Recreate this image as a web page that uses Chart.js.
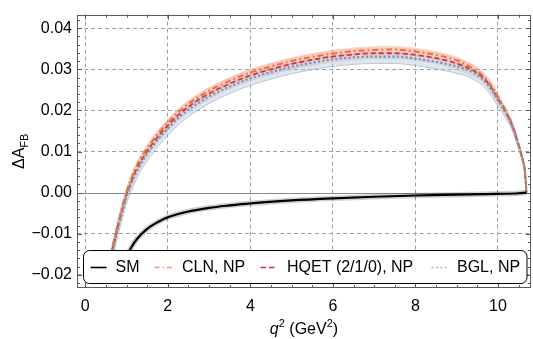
<!DOCTYPE html>
<html><head><meta charset="utf-8">
<script src="https://cdn.jsdelivr.net/npm/chart.js@4.4.1/dist/chart.umd.min.js"></script>
<style>html,body{margin:0;padding:0;background:#fff;overflow:hidden}</style>
</head><body>
<canvas id="c" width="533" height="339"></canvas>
<script>
// ---- data ----
const X_TICKS = [0, 2, 4, 6, 8, 10];
const Y_TICKS = [-0.02, -0.01, 0, 0.01, 0.02, 0.03, 0.04];
const LEGEND_LABELS = ['SM', 'CLN, NP', 'HQET (2/1/0), NP', 'BGL, NP'];

const Q_SM = [0.85, 0.9, 1.0, 1.1, 1.25, 1.5, 1.75, 2.0, 2.5, 3.0, 3.5, 4.0, 5.0, 6.0, 7.0, 8.0, 9.0, 10.0, 10.5, 10.69];
const SM   = [-0.0220, -0.0190, -0.0158, -0.0136, -0.0113, -0.0088, -0.0072, -0.0060, -0.0046, -0.0037, -0.0031, -0.0026, -0.0019, -0.0014, -0.0010, -0.0007, -0.0005, -0.0003, -0.00015, 0];

const Q_NP = [0.55, 0.63, 0.7, 0.8, 0.9, 1.0, 1.1, 1.2, 1.3, 1.45, 1.6, 1.8, 2.0, 2.3, 2.6, 3.0, 3.5, 4.0, 4.5, 5.0, 5.5, 6.0, 6.5, 7.0, 7.5,
              8.0, 8.5, 8.8, 9.0, 9.2, 9.4, 9.6, 9.8, 10.0, 10.2, 10.35, 10.5, 10.6, 10.65, 10.69];
const CLN  = [-0.0195, -0.0146, -0.0115, -0.0072, -0.0033, 0.0002, 0.0030, 0.0055, 0.0075, 0.0100, 0.0122, 0.0148, 0.0170, 0.0200, 0.0223, 0.0248, 0.0272, 0.0292, 0.0307, 0.0320, 0.0330, 0.0338, 0.0344, 0.0347, 0.0348,
              0.0343, 0.0335, 0.0328, 0.0322, 0.0313, 0.0302, 0.0287, 0.0265, 0.0232, 0.0197, 0.0165, 0.0118, 0.0080, 0.0055, 0];
const HQET = [-0.0200, -0.0152, -0.0121, -0.0078, -0.0040, -0.0004, 0.0023, 0.0048, 0.0068, 0.0093, 0.0115, 0.0141, 0.0163, 0.0193, 0.0216, 0.0241, 0.0265, 0.0285, 0.0300, 0.0313, 0.0323, 0.0331, 0.0336, 0.0339, 0.0339,
              0.0335, 0.0327, 0.0320, 0.0314, 0.0306, 0.0297, 0.0283, 0.0261, 0.0228, 0.0194, 0.0162, 0.0116, 0.0079, 0.0054, 0];
const BGL  = [-0.0205, -0.0157, -0.0127, -0.0084, -0.0046, -0.0010, 0.0017, 0.0041, 0.0061, 0.0087, 0.0108, 0.0134, 0.0156, 0.0186, 0.0209, 0.0234, 0.0258, 0.0278, 0.0293, 0.0306, 0.0316, 0.0324, 0.0329, 0.0331, 0.0331,
              0.0326, 0.0318, 0.0312, 0.0307, 0.0301, 0.0292, 0.0278, 0.0256, 0.0224, 0.0191, 0.0160, 0.0114, 0.0078, 0.0053, 0];

// uncertainty band half-widths (read from the shaded regions)
const CLN_ERR  = [0.0009, 0.0009, 0.0009, 0.0009, 0.0009, 0.0009, 0.0009, 0.0009, 0.0008, 0.0008, 0.0008, 0.0008, 0.0008, 0.0008, 0.0008, 0.0008, 0.0008, 0.0008, 0.0008, 0.0008, 0.0008, 0.0008, 0.0008, 0.0008, 0.0008,
                  0.0008, 0.0008, 0.0008, 0.0008, 0.0008, 0.0008, 0.0008, 0.0008, 0.0007, 0.0006, 0.0005, 0.0004, 0.0003, 0.0002, 0];
const HQET_ERR = [0.0013, 0.0013, 0.0013, 0.0013, 0.0013, 0.0013, 0.0013, 0.0013, 0.0013, 0.0013, 0.0013, 0.0013, 0.0013, 0.0013, 0.0013, 0.0013, 0.0013, 0.0013, 0.0013, 0.0013, 0.0013, 0.0013, 0.0013, 0.0013, 0.0013,
                  0.0013, 0.0013, 0.0013, 0.0013, 0.0013, 0.0013, 0.0012, 0.0012, 0.0011, 0.0009, 0.0008, 0.0006, 0.0004, 0.0003, 0];
const BGL_UP   = [0.0008, 0.0008, 0.0008, 0.0008, 0.0008, 0.0008, 0.0008, 0.0008, 0.0008, 0.0008, 0.0008, 0.0008, 0.0008, 0.0008, 0.0008, 0.0008, 0.0008, 0.0008, 0.0008, 0.0008, 0.0008, 0.0008, 0.0008, 0.0008, 0.0008,
                  0.0008, 0.0008, 0.0008, 0.0008, 0.0008, 0.0008, 0.0008, 0.0008, 0.0007, 0.0006, 0.0005, 0.0004, 0.0003, 0.0002, 0];
const BGL_DN   = [0.0017, 0.0017, 0.0017, 0.0017, 0.0017, 0.0017, 0.0017, 0.0017, 0.0017, 0.0017, 0.0017, 0.0017, 0.0017, 0.0017, 0.0017, 0.0017, 0.0017, 0.0017, 0.0017, 0.0017, 0.0017, 0.0017, 0.0017, 0.0017, 0.0017,
                  0.0017, 0.0017, 0.0017, 0.0017, 0.0016, 0.0016, 0.0015, 0.0015, 0.0014, 0.0012, 0.0010, 0.0008, 0.0005, 0.0003, 0];

// ---- build tables ----
const pts = (xs, ys) => xs.map((x, i) => ({x, y: ys[i]}));
const shift = (xs, ys, d, s) => xs.map((x, i) => ({x, y: ys[i] + s * d[i]}));

const C_CLN = '#ec7233', C_HQET = '#d9303c', C_BGL = '#7795ad';
const FONT = "'Liberation Sans', Arial, sans-serif";

const line = (data, color, dash, width, order) => ({
  data, borderColor: color, borderDash: dash, borderWidth: width, pointRadius: 0,
  fill: false, cubicInterpolationMode: 'monotone', order
});
const band = (data, fillCol, edgeCol, fillTarget, order) => ({
  data, borderColor: edgeCol, borderWidth: 0.8, backgroundColor: fillCol, pointRadius: 0,
  fill: fillTarget, cubicInterpolationMode: 'monotone', order
});

const datasets = [
  line(pts(Q_SM, SM), '#000', [], 2.2, 0),
  line(pts(Q_SM, SM), 'rgba(0,0,0,0.18)', [], 5.5, 1),
  line(pts(Q_NP, BGL), C_BGL, [2.2, 2.2], 2.2, 2),
  line(pts(Q_NP, CLN), C_CLN, [6, 3, 1.8, 3], 2, 3),
  line(pts(Q_NP, HQET), C_HQET, [5, 3], 1.8, 4),
  band(shift(Q_NP, BGL, BGL_UP, 1), 'rgba(178,198,214,0.42)', 'rgba(150,175,195,0.55)', '+1', 5),
  band(shift(Q_NP, BGL, BGL_DN, -1), 'rgba(0,0,0,0)', 'rgba(140,165,188,0.75)', false, 6),
  band(shift(Q_NP, HQET, HQET_ERR, 1), 'rgba(236,140,150,0.28)', 'rgba(236,140,150,0.4)', '+1', 7),
  band(shift(Q_NP, HQET, HQET_ERR, -1), 'rgba(0,0,0,0)', 'rgba(236,140,150,0.4)', false, 8),
  band(shift(Q_NP, CLN, CLN_ERR, 1), 'rgba(250,170,120,0.32)', 'rgba(250,170,120,0.45)', '+1', 9),
  band(shift(Q_NP, CLN, CLN_ERR, -1), 'rgba(0,0,0,0)', 'rgba(250,170,120,0.45)', false, 10)
];

const FRAME = '#5a5a5a';

const decor = {
  id: 'decor',
  beforeDatasetsDraw(chart) {
    const {ctx, chartArea: a, scales: {y}} = chart;
    const yp = Math.round(y.getPixelForValue(0)) + 0.5;
    ctx.save();
    ctx.strokeStyle = '#8a8a8a'; ctx.lineWidth = 1;
    ctx.beginPath(); ctx.moveTo(a.left, yp); ctx.lineTo(a.right, yp); ctx.stroke();
    ctx.restore();
  },
  afterDatasetsDraw(chart) {
    const {ctx, chartArea: a, scales: {x, y}} = chart;
    ctx.save();
    ctx.strokeStyle = FRAME; ctx.lineWidth = 1;
    ctx.beginPath();
    for (let k = Math.ceil(x.min / 0.5); k * 0.5 <= x.max; k++) {
      const v = k * 0.5, px = Math.round(x.getPixelForValue(v)) + 0.5;
      const L = (k % 4 === 0) ? 5 : 3;
      ctx.moveTo(px, a.bottom); ctx.lineTo(px, a.bottom - L);
      ctx.moveTo(px, a.top); ctx.lineTo(px, a.top + L);
    }
    for (let k = Math.ceil(y.min / 0.002 - 1e-6); k * 0.002 <= y.max + 1e-9; k++) {
      const v = k * 0.002, py = Math.round(y.getPixelForValue(v)) + 0.5;
      const L = (k % 5 === 0) ? 5 : 3;
      ctx.moveTo(a.left, py); ctx.lineTo(a.left + L, py);
      ctx.moveTo(a.right, py); ctx.lineTo(a.right - L, py);
    }
    ctx.stroke();
    ctx.strokeRect(Math.round(a.left) + 0.5, Math.round(a.top) + 0.5, Math.round(a.width) - 1, Math.round(a.height) - 1);
    ctx.restore();
  },
  afterDraw(chart) {
    const {ctx, chartArea: a} = chart;
    ctx.save();
    const bx = a.left + 6.5, by = a.bottom - 37.5, bw = a.right - 4 - bx, bh = 33;
    ctx.beginPath();
    ctx.roundRect(bx, by, bw, bh, 6);
    ctx.fillStyle = '#fff'; ctx.fill();
    ctx.strokeStyle = '#000'; ctx.lineWidth = 1; ctx.stroke();
    const my = by + bh / 2 + 0.5;
    const items = [
      {s: bx + 7,   e: bx + 23,  t: bx + 32,  color: '#000', dash: [], w: 1.6},
      {s: bx + 71,  e: bx + 89,  t: bx + 98.5, color: '#f09a6a', dash: [5, 3, 1.5, 3], w: 1.3},
      {s: bx + 177, e: bx + 193, t: bx + 203.5, color: '#d9303c', dash: [5.5, 3], w: 1.3},
      {s: bx + 348, e: bx + 363, t: bx + 373.5, color: '#9db4c6', dash: [2, 2.4], w: 1.3}
    ];
    ctx.font = '16px ' + FONT; ctx.textBaseline = 'middle'; ctx.textAlign = 'left';
    items.forEach((it, i) => {
      ctx.beginPath(); ctx.setLineDash(it.dash); ctx.strokeStyle = it.color; ctx.lineWidth = it.w;
      ctx.moveTo(it.s, my); ctx.lineTo(it.e, my); ctx.stroke();
      ctx.setLineDash([]);
      ctx.fillStyle = '#000'; ctx.fillText(LEGEND_LABELS[i], it.t, my + 0.5);
    });
    ctx.textBaseline = 'alphabetic';
    const parts = [
      {t: 'q', f: 'italic 16px ' + FONT, dy: 0},
      {t: '2', f: '11px ' + FONT, dy: -7},
      {t: ' (GeV', f: '16px ' + FONT, dy: 0},
      {t: '2', f: '11px ' + FONT, dy: -7},
      {t: ')', f: '16px ' + FONT, dy: 0}
    ];
    let tw = 0;
    parts.forEach(p => { ctx.font = p.f; p.w = ctx.measureText(p.t).width; tw += p.w; });
    let cx = (a.left + a.right) / 2 - tw / 2;
    const base = 334;
    parts.forEach(p => { ctx.font = p.f; ctx.fillText(p.t, cx, base + p.dy); cx += p.w; });
    ctx.save();
    ctx.translate(24, (a.top + a.bottom) / 2);
    ctx.rotate(-Math.PI / 2);
    const yp = [
      {t: '\u0394A', f: '16px ' + FONT, dy: 0},
      {t: 'FB', f: '11px ' + FONT, dy: 3.5}
    ];
    let yw = 0;
    yp.forEach(p => { ctx.font = p.f; p.w = ctx.measureText(p.t).width; yw += p.w; });
    let cy = -yw / 2;
    yp.forEach(p => { ctx.font = p.f; ctx.fillText(p.t, cy, p.dy); cy += p.w; });
    ctx.restore();
    ctx.restore();
  }
};

const gridColor = (c) => (c.tick && Math.abs(c.tick.value) < 1e-9 && c.scale.axis === 'y') ? 'rgba(0,0,0,0)' : '#a0a0a0';

new Chart(document.getElementById('c'), {
  type: 'line',
  data: {datasets},
  options: {
    responsive: false,
    animation: false,
    events: [],
    layout: {padding: {left: 0, right: 2, top: 5, bottom: 0}},
    plugins: {legend: {display: false}, tooltip: {enabled: false}},
    scales: {
      x: {
        type: 'linear', min: -0.2, max: 10.8,
        afterFit: (s) => { s.height = 51; },
        afterBuildTicks: (s) => { s.ticks = X_TICKS.map(v => ({value: v})); },
        grid: {color: gridColor, lineWidth: 1, drawTicks: false},
        border: {display: false, dash: [4, 3]},
        ticks: {padding: 9, color: '#000', font: {family: FONT, size: 16}, maxRotation: 0,
                callback: (v) => String(v)}
      },
      y: {
        type: 'linear', min: -0.0232, max: 0.0433,
        afterFit: (s) => { s.width = 77; },
        afterBuildTicks: (s) => { s.ticks = Y_TICKS.map(v => ({value: v})); },
        grid: {color: gridColor, lineWidth: 1, drawTicks: false},
        border: {display: false, dash: [4, 3]},
        ticks: {padding: 5, color: '#000', font: {family: FONT, size: 16},
                callback: (v) => (v < -1e-9 ? '\u2212' : '') + Math.abs(v).toFixed(2)}
      }
    }
  },
  plugins: [decor]
});
</script>
</body></html>
